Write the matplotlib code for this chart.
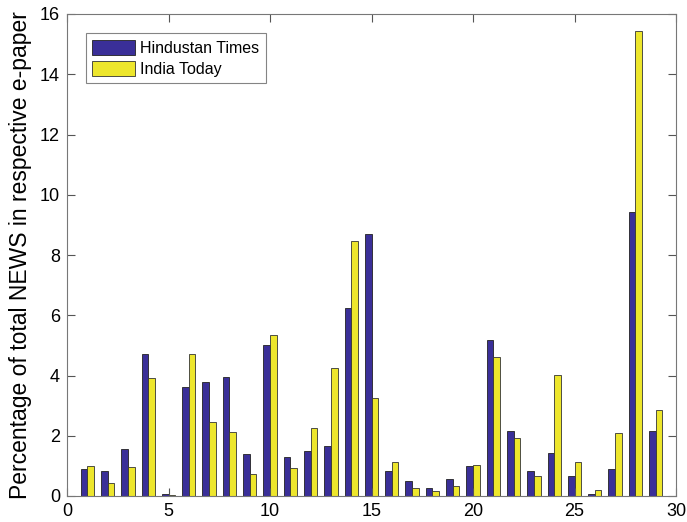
import matplotlib
matplotlib.use("Agg")
import matplotlib.pyplot as plt
import numpy as np

plt.rcParams['font.family'] = ['Liberation Sans', 'DejaVu Sans']

categories = list(range(1, 30))
hindustan_times = [0.9, 0.83, 1.57, 4.7, 0.05, 3.62, 3.78, 3.95, 1.4, 5.0,
                   1.3, 1.5, 1.65, 6.25, 8.7, 0.82, 0.5, 0.25, 0.57, 0.98,
                   5.17, 2.15, 0.83, 1.42, 0.65, 0.08, 0.9, 9.43, 2.15]
india_today = [1.0, 0.43, 0.95, 3.92, 0.02, 4.7, 2.45, 2.12, 0.72, 5.33,
               0.93, 2.25, 4.25, 8.48, 3.25, 1.13, 0.25, 0.17, 0.33, 1.03,
               4.6, 1.93, 0.65, 4.03, 1.13, 0.2, 2.1, 15.45, 2.87]
xticks = [0, 5, 10, 15, 20, 25, 30]
yticks = [0, 2, 4, 6, 8, 10, 12, 14, 16]

fig = plt.figure(figsize=(6.87, 5.22), dpi=100)
ax = fig.add_axes([67/687, 1 - 496/522, (676 - 67)/687, (496 - 14)/522])

x = np.array(categories)
w = 0.33
ax.bar(x - w/2, hindustan_times, width=w, color="#3a2f98", edgecolor="#222222",
       linewidth=0.6, label="Hindustan Times")
ax.bar(x + w/2, india_today, width=w, color="#ede62c", edgecolor="#333333",
       linewidth=0.6, label="India Today")

ax.set_xlim(0, 30)
ax.set_ylim(0, 16)
ax.set_xticks(xticks)
ax.set_yticks(yticks)
ax.tick_params(direction="in", top=True, right=True, labelsize=13, length=6,
               color="#555555", pad=5)
for s in ax.spines.values():
    s.set_color("#777777")
    s.set_linewidth(0.8)
ax.set_ylabel("Percentage of total NEWS in respective e-paper", fontsize=16.5, labelpad=6)

leg = ax.legend(loc="upper left", bbox_to_anchor=(0.031, 0.96), borderaxespad=0,
                fontsize=11.5, frameon=True, fancybox=False, edgecolor="#666666",
                handlelength=2.7, handleheight=1.1, borderpad=0.4, labelspacing=0.3,
                handletextpad=0.3)
leg.get_frame().set_linewidth(0.8)

fig.savefig("out.png", dpi=100)
